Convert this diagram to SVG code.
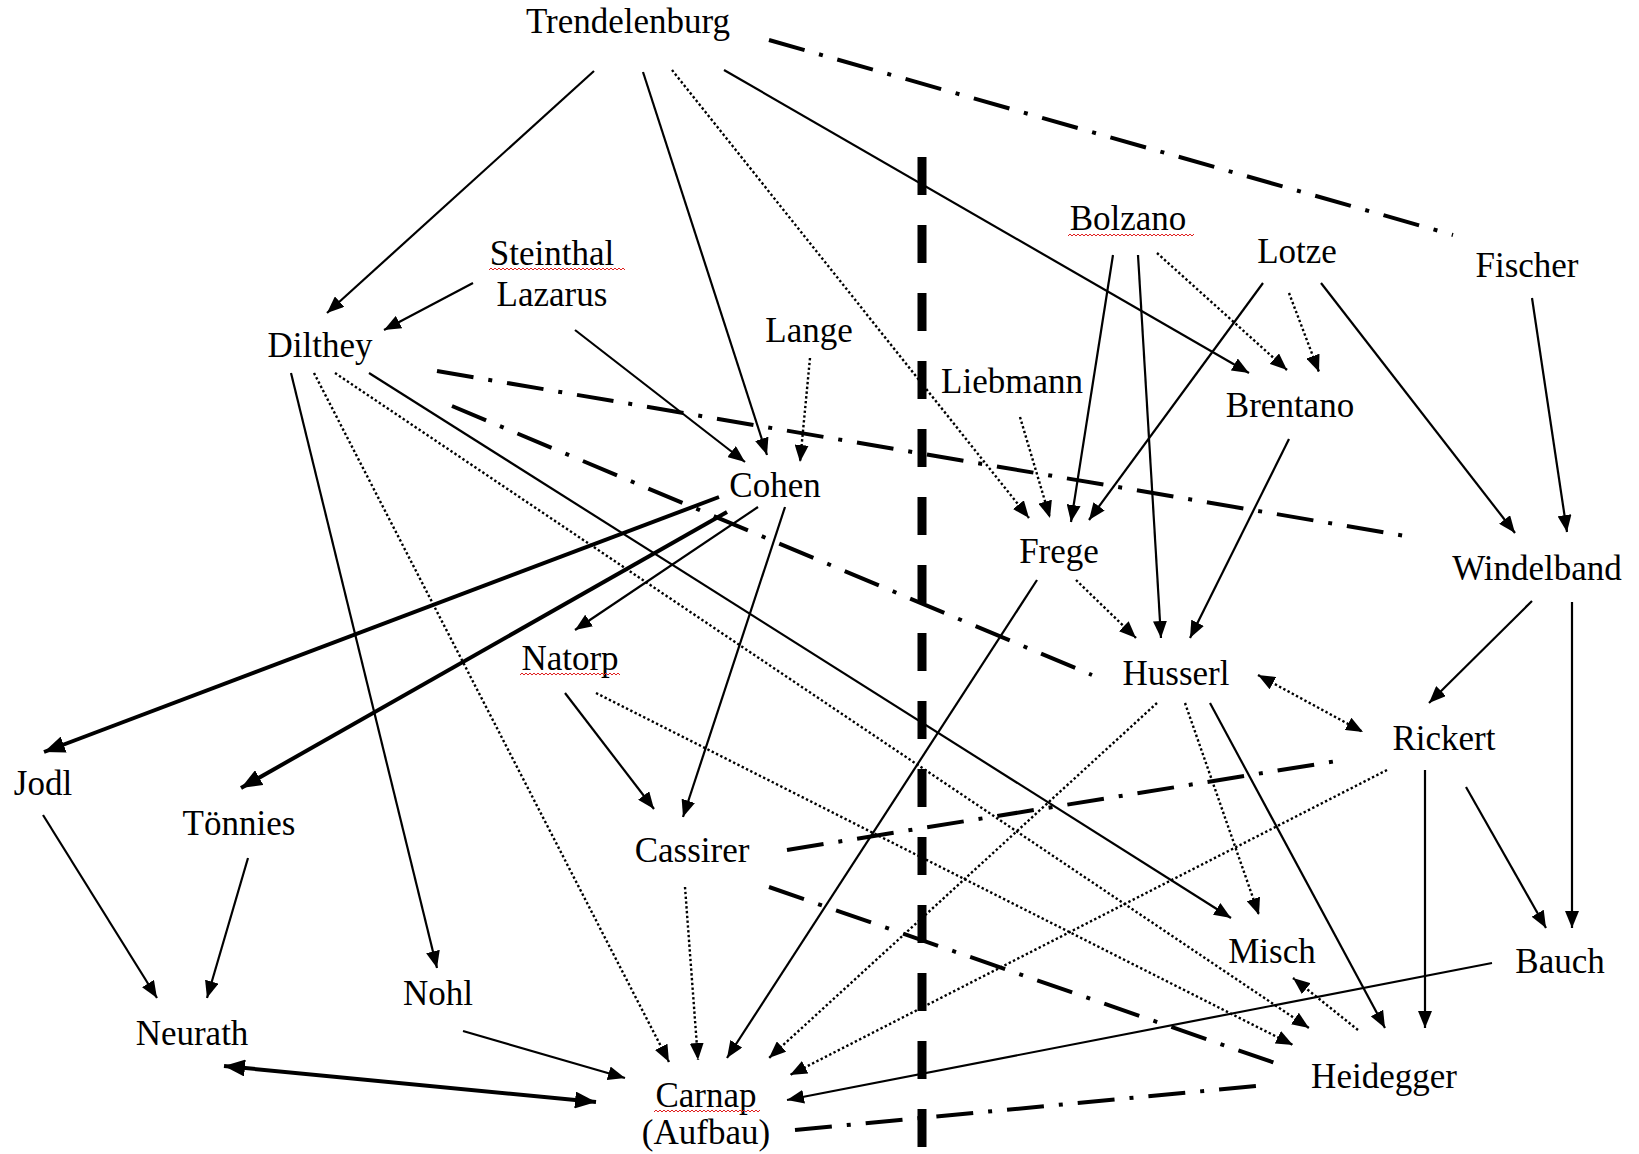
<svg xmlns="http://www.w3.org/2000/svg" width="1639" height="1154" viewBox="0 0 1639 1154">
  <defs>
    <marker id="ah" markerUnits="userSpaceOnUse" markerWidth="17" markerHeight="14" refX="17" refY="7" orient="auto-start-reverse">
      <path d="M0,0 L17,7 L0,14 z" fill="#000"/>
    </marker>
    <marker id="ahBig" markerUnits="userSpaceOnUse" markerWidth="21" markerHeight="17" refX="21" refY="8.5" orient="auto-start-reverse">
      <path d="M0,0 L21,8.5 L0,17 z" fill="#000"/>
    </marker>
    <style>
      text { font-family: "Liberation Serif", "Times New Roman", serif; font-size: 35px; fill: #000; text-anchor: middle; }
      .solid { stroke: #000; stroke-width: 2.2; fill: none; marker-end: url(#ah); }
      .thick { stroke: #000; stroke-width: 4; fill: none; marker-end: url(#ahBig); }
      .dot { stroke: #000; stroke-width: 2.4; stroke-dasharray: 2.4 2.4; fill: none; marker-end: url(#ah); }
      .dashdot { stroke: #000; stroke-width: 4; stroke-dasharray: 37 15 4 15; fill: none; }
      .divider { stroke: #000; stroke-width: 9; stroke-dasharray: 38 30; fill: none; }
      .squiggle { stroke: #e02020; stroke-width: 1; fill: none; }
    </style>
  </defs>

  <!-- vertical boundary -->
  <line class="divider" x1="922" y1="157" x2="922" y2="1147"/>

  <g id="connectors">
    <!-- solid influences -->
    <line class="solid" x1="594" y1="71" x2="327" y2="313"/>
    <line class="solid" x1="643" y1="72" x2="767" y2="455"/>
    <line class="solid" x1="724" y1="70" x2="1249" y2="373"/>
    <line class="solid" x1="473" y1="283" x2="384" y2="330"/>
    <line class="solid" x1="575" y1="330" x2="745" y2="462"/>
    <line class="solid" x1="291" y1="373" x2="437" y2="968"/>
    <line class="solid" x1="369" y1="373" x2="1231" y2="918"/>
    <line class="solid" x1="758" y1="507" x2="575" y2="630"/>
    <line class="solid" x1="785" y1="507" x2="683" y2="817"/>
    <line class="solid" x1="565" y1="693" x2="654" y2="809"/>
    <line class="solid" x1="43" y1="815" x2="157" y2="998"/>
    <line class="solid" x1="248" y1="858" x2="207" y2="998"/>
    <line class="solid" x1="463" y1="1031" x2="625" y2="1078"/>
    <line class="solid" x1="1037" y1="580" x2="727" y2="1058"/>
    <line class="solid" x1="1492" y1="963" x2="787" y2="1100"/>
    <line class="solid" x1="1113" y1="255" x2="1071" y2="522"/>
    <line class="solid" x1="1138" y1="255" x2="1161" y2="638"/>
    <line class="solid" x1="1263" y1="283" x2="1089" y2="520"/>
    <line class="solid" x1="1321" y1="283" x2="1515" y2="533"/>
    <line class="solid" x1="1532" y1="298" x2="1567" y2="532"/>
    <line class="solid" x1="1289" y1="439" x2="1190" y2="638"/>
    <line class="solid" x1="1532" y1="601" x2="1429" y2="703"/>
    <line class="solid" x1="1572" y1="602" x2="1572" y2="928"/>
    <line class="solid" x1="1210" y1="703" x2="1385" y2="1028"/>
    <line class="solid" x1="1425" y1="770" x2="1425" y2="1028"/>
    <line class="solid" x1="1466" y1="787" x2="1546" y2="928"/>

    <!-- heavy arrows -->
    <line class="thick" x1="719" y1="497" x2="44" y2="752"/>
    <line class="thick" x1="727" y1="512" x2="241" y2="788"/>
    <line class="thick" x1="224" y1="1066" x2="596" y2="1102" marker-start="url(#ahBig)"/>

    <!-- dotted influences -->
    <line class="dot" x1="672" y1="70" x2="1029" y2="518"/>
    <line class="dot" x1="810" y1="358" x2="800" y2="462"/>
    <line class="dot" x1="314" y1="373" x2="669" y2="1062"/>
    <line class="dot" x1="335" y1="373" x2="1309" y2="1028"/>
    <line class="dot" x1="596" y1="693" x2="1293" y2="1045"/>
    <line class="dot" x1="685" y1="887" x2="698" y2="1060"/>
    <line class="dot" x1="1157" y1="703" x2="769" y2="1058"/>
    <line class="dot" x1="1387" y1="770" x2="790" y2="1075"/>
    <line class="dot" x1="1076" y1="580" x2="1136" y2="638"/>
    <line class="dot" x1="1157" y1="253" x2="1287" y2="370"/>
    <line class="dot" x1="1289" y1="293" x2="1319" y2="372"/>
    <line class="dot" x1="1020" y1="417" x2="1050" y2="518"/>
    <line class="dot" x1="1258" y1="675" x2="1363" y2="732" marker-start="url(#ah)"/>
    <line class="dot" x1="1185" y1="703" x2="1259" y2="915"/>
    <line class="dot" x1="1358" y1="1030" x2="1293" y2="978"/>

    <!-- dash-dot relations -->
    <line class="dashdot" x1="769" y1="40" x2="1453" y2="235"/>
    <line class="dashdot" x1="437" y1="371" x2="1411" y2="537"/>
    <line class="dashdot" x1="452" y1="406" x2="1092" y2="675"/>
    <line class="dashdot" x1="787" y1="850" x2="1343" y2="760"/>
    <line class="dashdot" x1="769" y1="887" x2="1275" y2="1063"/>
    <line class="dashdot" x1="795" y1="1130" x2="1267" y2="1085"/>
  </g>

  <g id="trendelenburg"><text x="628" y="33">Trendelenburg</text></g>
  <g id="steinthal-lazarus">
    <text x="552" y="265">Steinthal</text>
    <path class="squiggle" d="M489,270 l2,-2 l2,2 l2,-2 l2,2 l2,-2 l2,2 l2,-2 l2,2 l2,-2 l2,2 l2,-2 l2,2 l2,-2 l2,2 l2,-2 l2,2 l2,-2 l2,2 l2,-2 l2,2 l2,-2 l2,2 l2,-2 l2,2 l2,-2 l2,2 l2,-2 l2,2 l2,-2 l2,2 l2,-2 l2,2 l2,-2 l2,2 l2,-2 l2,2 l2,-2 l2,2 l2,-2 l2,2 l2,-2 l2,2 l2,-2 l2,2 l2,-2 l2,2 l2,-2 l2,2 l2,-2 l2,2 l2,-2 l2,2 l2,-2 l2,2 l2,-2 l2,2 l2,-2 l2,2 l2,-2 l2,2 l2,-2 l2,2 l2,-2 l2,2 l2,-2 l2,2 l2,-2 l2,2"/>
    <text x="552" y="306">Lazarus</text>
  </g>
  <g id="dilthey"><text x="320" y="357">Dilthey</text></g>
  <g id="lange"><text x="809" y="342">Lange</text></g>
  <g id="liebmann"><text x="1012" y="393">Liebmann</text></g>
  <g id="bolzano">
    <text x="1128" y="230">Bolzano</text>
    <path class="squiggle" d="M1068,236 l2,-2 l2,2 l2,-2 l2,2 l2,-2 l2,2 l2,-2 l2,2 l2,-2 l2,2 l2,-2 l2,2 l2,-2 l2,2 l2,-2 l2,2 l2,-2 l2,2 l2,-2 l2,2 l2,-2 l2,2 l2,-2 l2,2 l2,-2 l2,2 l2,-2 l2,2 l2,-2 l2,2 l2,-2 l2,2 l2,-2 l2,2 l2,-2 l2,2 l2,-2 l2,2 l2,-2 l2,2 l2,-2 l2,2 l2,-2 l2,2 l2,-2 l2,2 l2,-2 l2,2 l2,-2 l2,2 l2,-2 l2,2 l2,-2 l2,2 l2,-2 l2,2 l2,-2 l2,2 l2,-2 l2,2 l2,-2 l2,2 l2,-2"/>
  </g>
  <g id="lotze"><text x="1297" y="263">Lotze</text></g>
  <g id="fischer"><text x="1527" y="277">Fischer</text></g>
  <g id="brentano"><text x="1290" y="417">Brentano</text></g>
  <g id="cohen"><text x="775" y="497">Cohen</text></g>
  <g id="frege"><text x="1059" y="563">Frege</text></g>
  <g id="windelband"><text x="1537" y="580">Windelband</text></g>
  <g id="natorp">
    <text x="570" y="670">Natorp</text>
    <path class="squiggle" d="M520,675 l2,-2 l2,2 l2,-2 l2,2 l2,-2 l2,2 l2,-2 l2,2 l2,-2 l2,2 l2,-2 l2,2 l2,-2 l2,2 l2,-2 l2,2 l2,-2 l2,2 l2,-2 l2,2 l2,-2 l2,2 l2,-2 l2,2 l2,-2 l2,2 l2,-2 l2,2 l2,-2 l2,2 l2,-2 l2,2 l2,-2 l2,2 l2,-2 l2,2 l2,-2 l2,2 l2,-2 l2,2 l2,-2 l2,2 l2,-2 l2,2 l2,-2 l2,2 l2,-2 l2,2 l2,-2 l2,2"/>
  </g>
  <g id="husserl"><text x="1176" y="685">Husserl</text></g>
  <g id="rickert"><text x="1444" y="750">Rickert</text></g>
  <g id="jodl"><text x="43" y="795">Jodl</text></g>
  <g id="toennies"><text x="239" y="835">Tönnies</text></g>
  <g id="cassirer"><text x="692" y="862">Cassirer</text></g>
  <g id="nohl"><text x="438" y="1005">Nohl</text></g>
  <g id="neurath"><text x="192" y="1045">Neurath</text></g>
  <g id="misch"><text x="1272" y="963">Misch</text></g>
  <g id="bauch"><text x="1560" y="973">Bauch</text></g>
  <g id="heidegger"><text x="1384" y="1088">Heidegger</text></g>
  <g id="carnap">
    <text x="706" y="1107">Carnap</text>
    <path class="squiggle" d="M654,1112 l2,-2 l2,2 l2,-2 l2,2 l2,-2 l2,2 l2,-2 l2,2 l2,-2 l2,2 l2,-2 l2,2 l2,-2 l2,2 l2,-2 l2,2 l2,-2 l2,2 l2,-2 l2,2 l2,-2 l2,2 l2,-2 l2,2 l2,-2 l2,2 l2,-2 l2,2 l2,-2 l2,2 l2,-2 l2,2 l2,-2 l2,2 l2,-2 l2,2 l2,-2 l2,2 l2,-2 l2,2 l2,-2 l2,2 l2,-2 l2,2 l2,-2 l2,2 l2,-2 l2,2 l2,-2 l2,2 l2,-2 l2,2 l2,-2"/>
    <text x="706" y="1144">(Aufbau)</text>
  </g>
</svg>
